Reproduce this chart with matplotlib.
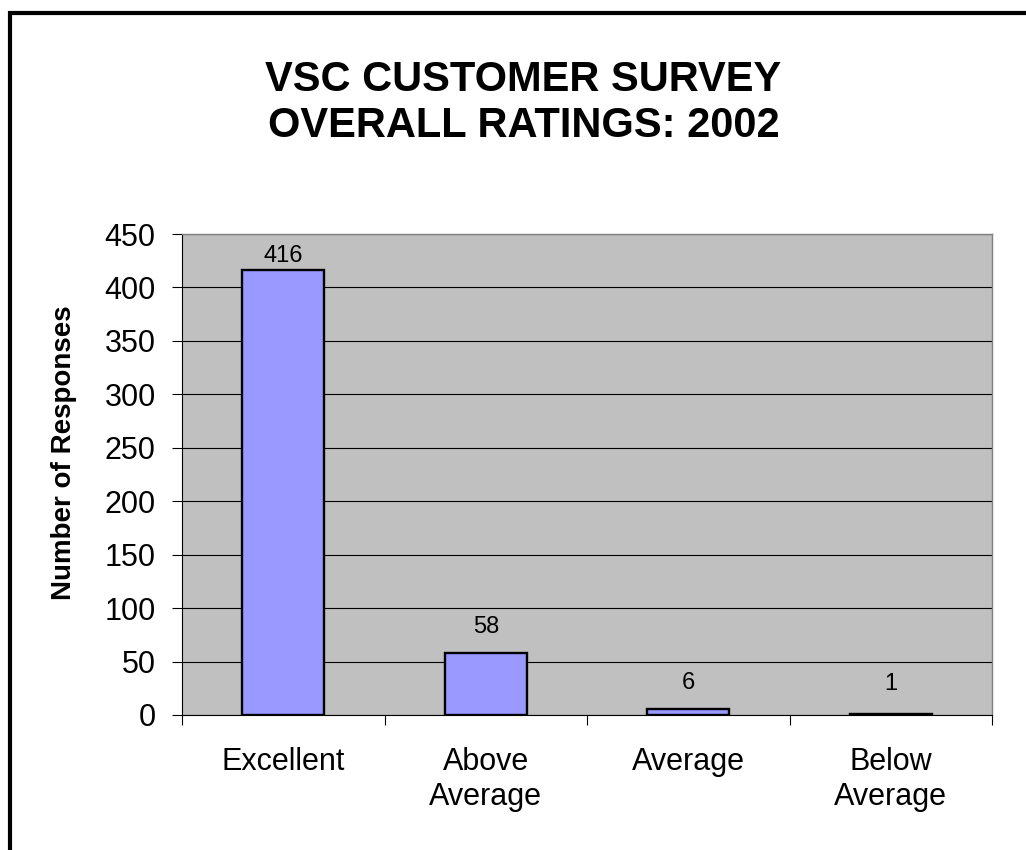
import matplotlib.pyplot as plt
from matplotlib.patches import Rectangle

# Survey data
categories = ['Excellent', 'Above\nAverage', 'Average', 'Below\nAverage']
responses = [416, 58, 6, 1]
y_ticks = [0, 50, 100, 150, 200, 250, 300, 350, 400, 450]

plt.rcParams['font.family'] = ['Liberation Sans', 'DejaVu Sans']

fig = plt.figure(figsize=(10.26, 8.5), dpi=100)
ax = fig.add_axes([182 / 1026, 135 / 850, 810 / 1026, 481 / 850])
ax.set_facecolor('#C0C0C0')

x = list(range(len(categories)))
ax.bar(x, responses, width=0.405, color='#9999FF', edgecolor='black',
       linewidth=1.7, zorder=3)

# gridlines
ax.set_axisbelow(True)
ax.yaxis.grid(True, color='black', linewidth=0.8)

ax.set_xlim(-0.5, len(categories) - 0.5)
ax.set_ylim(0, 450)
ax.set_yticks(y_ticks)
ax.tick_params(axis='y', labelsize=22, length=7, width=0.8, pad=12, direction='out')

# category labels centred between tick marks at the boundaries
ax.set_xticks(x)
ax.set_xticklabels(categories, fontsize=22, linespacing=1.2)
ax.tick_params(axis='x', which='major', length=0, pad=23)
ax.set_xticks([i - 0.5 for i in range(len(categories) + 1)], minor=True)
ax.tick_params(axis='x', which='minor', length=7, width=0.8, direction='out')

for side in ['top', 'right']:
    ax.spines[side].set_color('#808080')
    ax.spines[side].set_linewidth(1.0)
for side in ['left', 'bottom']:
    ax.spines[side].set_color('black')
    ax.spines[side].set_linewidth(0.8)

# value labels above bars (kept inside the plot area)
for xi, v in zip(x, responses):
    ax.text(xi, min(max(v + 18.5, 23.5), 423.5), str(v), ha='center',
            va='baseline', fontsize=17, zorder=4)

fig.text(64 / 1026, 0.4676, 'Number of Responses', rotation=90, ha='center',
         va='center', fontsize=20, fontweight='bold')

fig.text(523.5 / 1026, (850 - 103) / 850,
         'VSC CUSTOMER SURVEY\nOVERALL RATINGS: 2002',
         ha='center', va='center', fontsize=30, fontweight='bold', linespacing=1.2)

# outer border (runs off the right and bottom edge)
fig.patches.append(Rectangle((10 / 1026, -0.05), 1.1, (850 - 13) / 850 + 0.05,
                             transform=fig.transFigure, fill=False,
                             edgecolor='black', linewidth=3))

fig.savefig('out.png', dpi=100)
